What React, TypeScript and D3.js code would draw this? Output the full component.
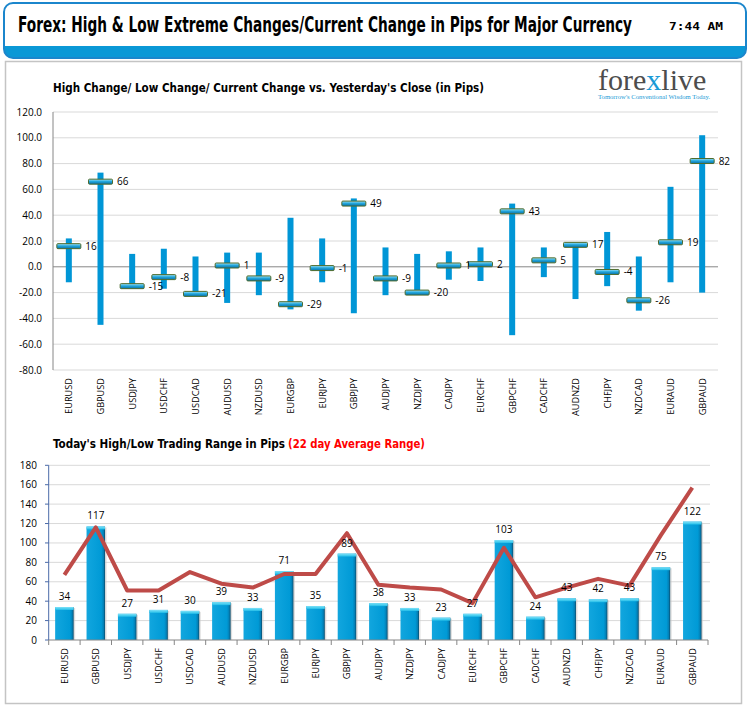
import React from 'react';
import * as d3 from 'd3';

const categories = ['EURUSD', 'GBPUSD', 'USDJPY', 'USDCHF', 'USDCAD', 'AUDUSD', 'NZDUSD', 'EURGBP', 'EURJPY', 'GBPJPY', 'AUDJPY', 'NZDJPY', 'CADJPY', 'EURCHF', 'GBPCHF', 'CADCHF', 'AUDNZD', 'CHFJPY', 'NZDCAD', 'EURAUD', 'GBPAUD'];
const highChange = [22, 73, 10, 14, 8, 11, 11, 38, 22, 53, 15, 10, 12, 15, 49, 15, 17, 27, 8, 62, 102];
const lowChange = [-12, -45, -16, -17, -21, -28, -22, -33, -12, -36, -22, -21, -10, -11, -53, -8, -25, -15, -34, -12, -20];
const currentChange = [16, 66, -15, -8, -21, 1, -9, -29, -1, 49, -9, -20, 1, 2, 43, 5, 17, -4, -26, 19, 82];
const upperTicks = [120, 100, 80, 60, 40, 20, 0, -20, -40, -60, -80];

const rangeToday = [34, 117, 27, 31, 30, 39, 33, 71, 35, 89, 38, 33, 23, 27, 103, 24, 43, 42, 43, 75, 122];
const avgRange22 = [67, 116, 51, 51, 70, 58, 54, 68, 68, 110, 57, 54, 52, 38, 95, 44, 54, 63, 56, 108, 157];
const lowerTicks = [0, 20, 40, 60, 80, 100, 120, 140, 160, 180];

const SANS = "'Open Sans', 'DejaVu Sans', sans-serif";
const COND = "'DejaVu Sans Condensed', 'DejaVu Sans', sans-serif";

export default function App() {
  const W = 752, H = 705;
  const xU = d3.scaleBand<string>().domain(categories).range([53, 718]);
  const yU = d3.scaleLinear().domain([-80, 120]).range([370, 112]);
  const xL = d3.scaleBand<string>().domain(categories).range([48.7, 708]);
  const yL = d3.scaleLinear().domain([0, 180]).range([640, 465.3]);
  const cU = (c: string) => (xU(c) as number) + xU.bandwidth() / 2;
  const cL = (c: string) => (xL(c) as number) + xL.bandwidth() / 2;
  const avgLine = d3.line<number>().x((_, i) => cL(categories[i])).y((d) => yL(d));
  const barW = 18.5;

  return (
    <svg width={W} height={H} viewBox={`0 0 ${W} ${H}`} style={{ position: 'absolute', left: 0, top: 0, background: '#fff' }}>
      <defs>
        <clipPath id="hdrClip">
          <rect x={4} y={3} width={742} height={55} rx={9} />
        </clipPath>
        <linearGradient id="markGrad" x1="0" y1="0" x2="0" y2="1">
          <stop offset="0" stopColor="#a8e4f7" />
          <stop offset="0.45" stopColor="#22a8de" />
          <stop offset="1" stopColor="#0a6fa6" />
        </linearGradient>
        <linearGradient id="barGrad" x1="0" y1="0" x2="1" y2="0">
          <stop offset="0" stopColor="#12a6de" />
          <stop offset="0.8" stopColor="#009ad6" />
          <stop offset="0.92" stopColor="#0380b6" />
          <stop offset="1" stopColor="#0b4a6a" />
        </linearGradient>
        <linearGradient id="capGrad" x1="0" y1="0" x2="0" y2="1">
          <stop offset="0" stopColor="#7fe2f8" />
          <stop offset="1" stopColor="#22bde8" />
        </linearGradient>
      </defs>

      {/* header */}
      <g>
        <rect x={4} y={3} width={742} height={55} rx={9} fill="#fff" />
        <rect x={4} y={46} width={742} height={12} fill="#0a98d6" clipPath="url(#hdrClip)" />
        <rect x={4} y={3} width={742} height={55} rx={9} fill="none" stroke="#1b86cc" strokeWidth={2} />
        <text x={18} y={32} fontFamily={COND} fontWeight="bold" fontSize={20.5} textLength={614} lengthAdjust="spacingAndGlyphs" fill="#000">
          Forex:  High &amp; Low Extreme Changes/Current Change in Pips for Major Currency
        </text>
        <text x={669} y={30} fontFamily="'DejaVu Sans Mono', monospace" fontWeight="bold" fontSize={11} textLength={54} lengthAdjust="spacingAndGlyphs" fill="#000">
          7:44 AM
        </text>
      </g>

      {/* panel */}
      <rect x={5.5} y={61.5} width={736} height={642} fill="#fff" stroke="#c4c4c4" strokeWidth={1.5} />

      {/* logo */}
      <g>
        <text x={598} y={90} fontFamily="'Liberation Serif', 'DejaVu Serif', serif" fontSize={30} fill="#4d4d4d">
          <tspan>fore</tspan><tspan fill="#1a9ad6">x</tspan><tspan>live</tspan>
        </text>
        <text x={598} y={98.5} fontFamily="'Liberation Serif', 'DejaVu Serif', serif" fontSize={6.5} fill="#1a9ad6" textLength={112} lengthAdjust="spacingAndGlyphs">
          Tomorrow's Conventional Wisdom Today.
        </text>
      </g>

      {/* upper chart */}
      <text x={53} y={92} fontFamily={COND} fontWeight="bold" fontSize={12.5} textLength={431} lengthAdjust="spacingAndGlyphs" fill="#000">
        High Change/ Low Change/ Current Change vs. Yesterday's Close (in Pips)
      </text>
      <g>
        {upperTicks.map((t) => (
          <line key={'gu' + t} x1={53} x2={718} y1={yU(t)} y2={yU(t)} stroke={t === 0 ? '#868686' : '#d9d9d9'} strokeWidth={1} />
        ))}
        <line x1={53} x2={53} y1={yU(120)} y2={yU(-80)} stroke="#868686" />
        {upperTicks.map((t) => (
          <text key={'tu' + t} x={42} y={yU(t) + 3.5} textAnchor="end" fontFamily={SANS} fontSize={10} fill="#000">
            {t.toFixed(1)}
          </text>
        ))}
        {categories.map((c, i) => (
          <rect key={'hl' + c} x={cU(c) - 3} y={yU(highChange[i])} width={6} height={yU(lowChange[i]) - yU(highChange[i])} fill="#0096d6" />
        ))}
        {categories.map((c, i) => (
          <rect key={'cm' + c} x={cU(c) - 12} y={yU(currentChange[i]) - 2.5} width={24} height={5} rx={1} fill="url(#markGrad)" stroke="#4e6b2c" strokeWidth={1} />
        ))}
        {categories.map((c, i) => (
          <text key={'cl' + c} x={cU(c) + 16.5} y={yU(currentChange[i]) + 3.5} fontFamily={SANS} fontSize={10} fill="#000">
            {currentChange[i]}
          </text>
        ))}
        {categories.map((c) => (
          <text key={'xu' + c} transform={`translate(${cU(c) + 3.5},378) rotate(-90)`} textAnchor="end" fontFamily={SANS} fontSize={9.2} fill="#000">
            {c}
          </text>
        ))}
      </g>

      {/* lower chart */}
      <text x={53} y={447.5} fontFamily={COND} fontWeight="bold" fontSize={12.5} fill="#000">
        <tspan textLength={232} lengthAdjust="spacingAndGlyphs">Today's High/Low Trading Range in Pips</tspan>
        <tspan x={288} fill="#ff0000" textLength={137} lengthAdjust="spacingAndGlyphs">(22 day Average Range)</tspan>
      </text>
      <g>
        {lowerTicks.filter((t) => t > 0).map((t) => (
          <line key={'gl' + t} x1={48.7} x2={710} y1={yL(t)} y2={yL(t)} stroke="#d9d9d9" />
        ))}
        {lowerTicks.map((t) => (
          <g key={'tl' + t}>
            <line x1={45} x2={48.7} y1={yL(t)} y2={yL(t)} stroke="#4a6aa8" />
            <text x={37} y={yL(t) + 3.5} textAnchor="end" fontFamily={SANS} fontSize={10} fill="#000">{t}</text>
          </g>
        ))}
        {categories.map((c, i) => (
          <g key={'bar' + c}>
            <rect x={cL(c) - barW / 2 + 1.5} y={yL(rangeToday[i]) + 1} width={barW} height={yL(0) - yL(rangeToday[i]) - 1} fill="#c8c8c8" opacity={0.6} />
            <rect x={cL(c) - barW / 2} y={yL(rangeToday[i])} width={barW} height={yL(0) - yL(rangeToday[i])} fill="url(#barGrad)" />
            <rect x={cL(c) - barW / 2} y={yL(rangeToday[i])} width={barW} height={3} fill="url(#capGrad)" />
          </g>
        ))}
        <line x1={48.7} x2={708} y1={yL(0)} y2={yL(0)} stroke="#868686" />
        {d3.range(categories.length + 1).map((i) => {
          const x = 48.7 + i * xL.bandwidth();
          return <line key={'xt' + i} x1={x} x2={x} y1={yL(0)} y2={yL(0) + 5} stroke="#868686" />;
        })}
        <line x1={48.7} x2={48.7} y1={yL(180)} y2={yL(0)} stroke="#4a6aa8" />
        <path d={avgLine(avgRange22) || ''} fill="none" stroke="#be4b48" strokeWidth={4} strokeLinejoin="round" />
        {categories.map((c, i) => (
          <text key={'bl' + c} x={cL(c)} y={yL(rangeToday[i]) - 7} textAnchor="middle" fontFamily={SANS} fontSize={10} fill="#000">
            {rangeToday[i]}
          </text>
        ))}
        {categories.map((c) => (
          <text key={'xl' + c} transform={`translate(${cL(c) + 3.5},648) rotate(-90)`} textAnchor="end" fontFamily={SANS} fontSize={9.2} fill="#000">
            {c}
          </text>
        ))}
      </g>
    </svg>
  );
}
